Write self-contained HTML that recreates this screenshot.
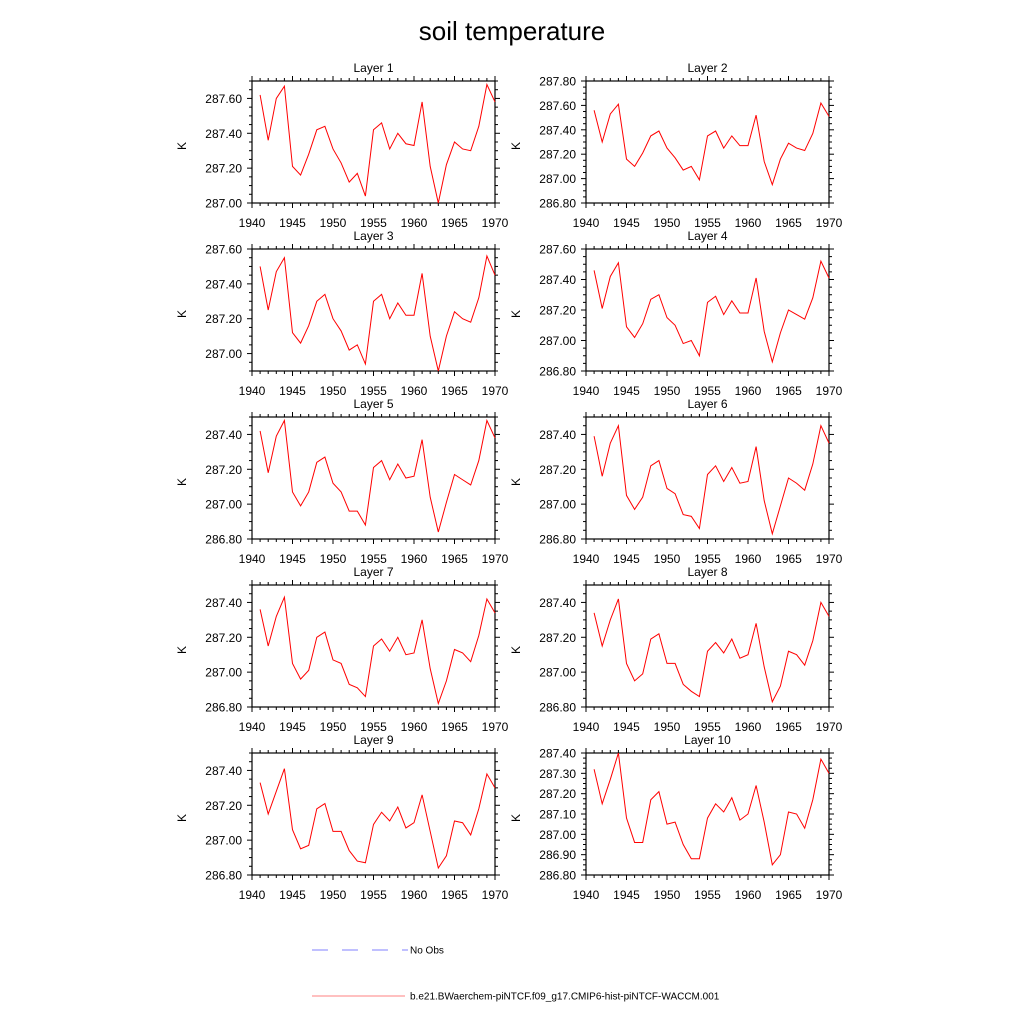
<!DOCTYPE html>
<html><head><meta charset="utf-8"><style>
body{margin:0;background:#fff}
svg{display:block;font-family:"Liberation Sans",sans-serif}
</style></head><body>
<svg id="c" width="1024" height="1024" viewBox="0 0 1024 1024">
<text x="512" y="40" text-anchor="middle" font-size="26">soil temperature</text>
<g>
<line x1="312" y1="950" x2="408" y2="950" stroke="#8080ff" stroke-width="1" stroke-dasharray="16,14"/>
<text x="410" y="953.5" font-size="10">No Obs</text>
<line x1="312" y1="996" x2="405" y2="996" stroke="#ff8080" stroke-width="1"/>
<text x="410" y="999.5" font-size="10">b.e21.BWaerchem-piNTCF.f09_g17.CMIP6-hist-piNTCF-WACCM.001</text>
</g>
</svg>
<script>
const years=[1941,1942,1943,1944,1945,1946,1947,1948,1949,1950,1951,1952,1953,1954,1955,1956,1957,1958,1959,1960,1961,1962,1963,1964,1965,1966,1967,1968,1969,1970];
const xTicks=[1940,1945,1950,1955,1960,1965,1970];
const layer1=[287.62,287.36,287.60,287.67,287.21,287.16,287.28,287.42,287.44,287.31,287.23,287.12,287.17,287.04,287.42,287.46,287.31,287.40,287.34,287.33,287.58,287.21,287.00,287.22,287.35,287.31,287.30,287.44,287.68,287.58];
const layer2=[287.56,287.30,287.53,287.61,287.16,287.10,287.21,287.35,287.39,287.25,287.17,287.07,287.10,286.99,287.35,287.39,287.25,287.35,287.27,287.27,287.52,287.14,286.95,287.16,287.29,287.25,287.23,287.37,287.62,287.51];
const layer3=[287.50,287.25,287.47,287.55,287.12,287.06,287.16,287.30,287.34,287.20,287.13,287.02,287.05,286.94,287.30,287.34,287.20,287.29,287.22,287.22,287.46,287.10,286.90,287.10,287.24,287.20,287.18,287.32,287.56,287.45];
const layer4=[287.46,287.21,287.42,287.51,287.09,287.02,287.11,287.27,287.30,287.15,287.10,286.98,287.00,286.90,287.25,287.29,287.17,287.26,287.18,287.18,287.41,287.06,286.86,287.05,287.20,287.17,287.14,287.28,287.52,287.41];
const layer5=[287.42,287.18,287.39,287.48,287.07,286.99,287.07,287.24,287.27,287.12,287.07,286.96,286.96,286.88,287.21,287.25,287.14,287.23,287.15,287.16,287.37,287.04,286.84,287.01,287.17,287.14,287.11,287.25,287.48,287.38];
const layer6=[287.39,287.16,287.35,287.45,287.05,286.97,287.04,287.22,287.25,287.09,287.06,286.94,286.93,286.86,287.17,287.22,287.13,287.21,287.12,287.13,287.33,287.02,286.83,286.99,287.15,287.12,287.08,287.23,287.45,287.35];
const layer7=[287.36,287.15,287.32,287.43,287.05,286.96,287.01,287.20,287.23,287.07,287.05,286.93,286.91,286.86,287.15,287.19,287.12,287.20,287.10,287.11,287.30,287.02,286.82,286.95,287.13,287.11,287.06,287.21,287.42,287.34];
const layer8=[287.34,287.15,287.30,287.42,287.05,286.95,286.99,287.19,287.22,287.05,287.05,286.93,286.89,286.86,287.12,287.17,287.11,287.19,287.08,287.10,287.28,287.03,286.83,286.92,287.12,287.10,287.04,287.18,287.40,287.32];
const layer9=[287.33,287.15,287.28,287.41,287.06,286.95,286.97,287.18,287.21,287.05,287.05,286.94,286.88,286.87,287.09,287.16,287.11,287.19,287.07,287.10,287.26,287.05,286.84,286.91,287.11,287.10,287.03,287.18,287.38,287.30];
const layer10=[287.32,287.15,287.27,287.40,287.08,286.96,286.96,287.17,287.21,287.05,287.06,286.95,286.88,286.88,287.08,287.15,287.11,287.18,287.07,287.10,287.24,287.06,286.85,286.90,287.11,287.10,287.03,287.17,287.37,287.30];
const yMins=[287.0,286.8,286.9,286.8,286.8,286.8,286.8,286.8,286.8,286.8];
const yMaxs=[287.7,287.8,287.6,287.6,287.5,287.5,287.5,287.5,287.5,287.4];
const yTickSteps=[0.2,0.2,0.2,0.2,0.2,0.2,0.2,0.2,0.2,0.1];
const series=[layer1,layer2,layer3,layer4,layer5,layer6,layer7,layer8,layer9,layer10];
const NS='http://www.w3.org/2000/svg';
const svg=document.getElementById('c');
function mk(tag,attrs,parent){const e=document.createElementNS(NS,tag);for(const k in attrs)e.setAttribute(k,attrs[k]);parent.appendChild(e);return e;}
series.forEach((data,i)=>{
  const col=i%2,row=Math.floor(i/2);
  const L=col?586:252,R=col?829:495,T=81+row*168,B=T+122;
  const g=mk('g',{},svg);
  
  
  const xs=v=>L+(v-1940)/30*(R-L);
  const ys=v=>B-(v-yMins[i])/(yMaxs[i]-yMins[i])*(B-T);
  const t=mk('text',{x:(L+R)/2,y:T-9,'text-anchor':'middle','font-size':12},g);
  t.textContent='Layer '+(i+1);
  
  
  // minor x ticks
  for(let yr=1940;yr<=1970;yr++){
    const x=xs(yr),len=yr%5===0?5:3;
    mk('line',{x1:x,y1:B,x2:x,y2:B+len,stroke:'#000','stroke-width':1},g);
    mk('line',{x1:x,y1:T,x2:x,y2:T-len,stroke:'#000','stroke-width':1},g);
  }
  xTicks.forEach(v=>{
    const tx=mk('text',{x:xs(v),y:B+24,'text-anchor':'middle','font-size':12},g);
    tx.textContent=v;
    
    
  });
  const st=yTickSteps[i],minor=st/4;
  const n=Math.round((yMaxs[i]-yMins[i])/minor);
  for(let k=0;k<=n;k++){
    const v=yMins[i]+k*minor,y=ys(v);
    const vm=Math.round(v*1000)/1000;
    const isMaj=Math.abs(Math.round(vm/st)*st-vm)<1e-6;
    const len=isMaj?5:3;
    mk('line',{x1:L,y1:y,x2:L-len,y2:y,stroke:'#000','stroke-width':1},g);
    mk('line',{x1:R,y1:y,x2:R+len,y2:y,stroke:'#000','stroke-width':1},g);
    if(isMaj&&vm<yMaxs[i]+1e-6&&!(i===0&&vm>287.65)&&!(i>=4&&i<=8&&vm>287.45)){
      const ty=mk('text',{x:L-10,y:y+4.5,'text-anchor':'end','font-size':12},g);
      ty.textContent=vm.toFixed(2);
      
      
    }
  }
  const k=mk('text',{x:L-62,y:(T+B)/2,'text-anchor':'middle','font-size':12,transform:`rotate(-90 ${L-62} ${(T+B)/2+4})`},g);
  k.textContent='K';
  
  
  const fr=mk('rect',{x:L,y:T,width:R-L,height:B-T,fill:'none',stroke:'#000','stroke-width':1.2},g);
  
  
  const ln=mk('polyline',{points:data.map((v,j)=>xs(years[j])+','+ys(v)).join(' '),fill:'none',stroke:'#ff0000','stroke-width':1},g);
  
  
});
</script>
</body></html>
